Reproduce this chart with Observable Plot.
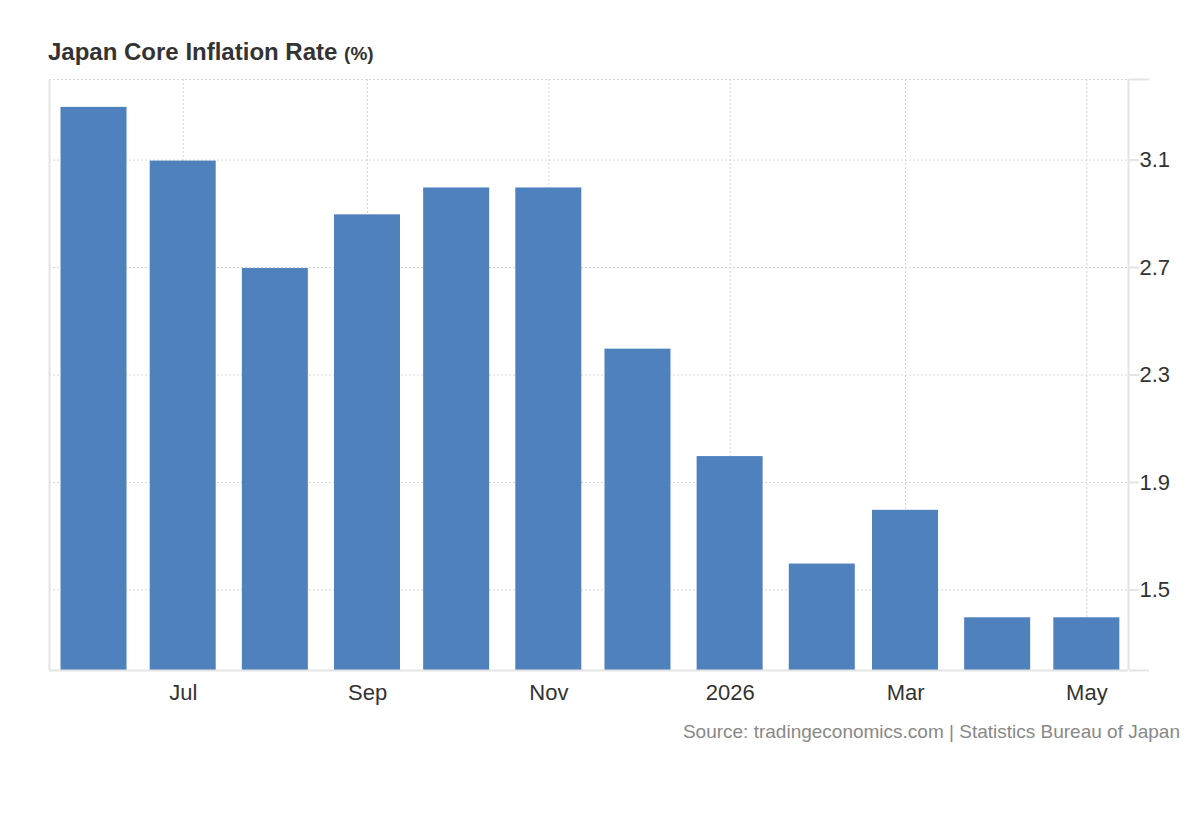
<!DOCTYPE html>
<html>
<head>
<meta charset="utf-8">
<script src="https://cdn.jsdelivr.net/npm/d3@7"></script>
<script src="https://cdn.jsdelivr.net/npm/@observablehq/plot@0.6"></script>
<style>
  html, body { margin: 0; padding: 0; background: #fff; }
  body { width: 1200px; height: 820px; font-family: "Liberation Sans", Arial, sans-serif; }
  #title { box-sizing: border-box; height: 70px; padding: 40px 0 0 48px; font-size: 24px; line-height: 24px; font-weight: bold; color: #333; }
  #title small { font-size: 19px; }
  #chart svg { display: block; }
  #source { box-sizing: border-box; margin-top: 2px; padding-right: 20px; text-align: right; font-size: 19px; line-height: 19px; color: #888; }
</style>
</head>
<body>
<div id="title">Japan Core Inflation Rate <small>(%)</small></div>
<div id="chart"></div>
<div id="source">Source: tradingeconomics.com | Statistics Bureau of Japan</div>
<script>
// ---- data ----
const months = ["2025-06","2025-07","2025-08","2025-09","2025-10","2025-11","2025-12","2026-01","2026-02","2026-03","2026-04","2026-05"];
const values = [3.3, 3.1, 2.7, 2.9, 3.0, 3.0, 2.4, 2.0, 1.6, 1.8, 1.4, 1.4];
const yTicks = [1.5, 1.9, 2.3, 2.7, 3.1];
const yDomain = [1.2, 3.4];
const xTickMonths = ["2025-07","2025-09","2025-11","2026-01","2026-03","2026-05"];
const xDomainDays = ["2025-05-17","2026-05-15"];

const parseMonth = s => new Date(s + "-01T00:00:00Z");
const parseDay = s => new Date(s + "T00:00:00Z");
const data = months.map((m, i) => ({date: parseMonth(m), value: values[i]}));
const xTicks = xTickMonths.map(parseMonth);
const xDomain = xDomainDays.map(parseDay);
const fmt = d => d.getUTCMonth() === 0 ? d3.utcFormat("%Y")(d) : d3.utcFormat("%b")(d);

const halfBar = 11.1; // days on each side of the month start
const gridColor = "#d6d6d6";
const frameColor = "#e4e4e4";

const chart = Plot.plot({
  width: 1200,
  height: 650,
  marginTop: 9,
  marginBottom: 50,
  marginLeft: 49,
  marginRight: 72,
  style: {fontFamily: "'Liberation Sans', Arial, sans-serif", color: "#333", background: "#fff"},
  x: {type: "utc", domain: xDomain, label: null},
  y: {domain: yDomain, label: null},
  marks: [
    Plot.gridX(xTicks, {stroke: gridColor, strokeOpacity: 1, strokeDasharray: "2,2"}),
    Plot.gridY(yTicks.concat([yDomain[1]]), {stroke: gridColor, strokeOpacity: 1, strokeDasharray: "2,2"}),
    Plot.rect(data, {
      x1: d => d3.utcHour.offset(d.date, -halfBar * 24),
      x2: d => d3.utcHour.offset(d.date, halfBar * 24),
      y1: () => yDomain[0],
      y2: "value",
      insetTop: 1,
      fill: "#4f81bd"
    }),
    Plot.ruleX([xDomain[0], xDomain[1]], {stroke: frameColor, strokeWidth: 2}),
    Plot.ruleY([yDomain[0]], {stroke: frameColor, strokeWidth: 2}),
    Plot.axisY(yTicks, {anchor: "right", label: null, tickSize: 10, tickPadding: 1, stroke: frameColor, strokeWidth: 2, fill: "#333", fontSize: 22, tickFormat: d => d.toFixed(1)}),
    Plot.axisY([yDomain[0], yDomain[1]], {anchor: "right", label: null, tickSize: 20, stroke: frameColor, strokeWidth: 2, tickFormat: () => ""}),
    Plot.axisX(xTicks, {label: null, tickSize: 0, tickPadding: 14, fill: "#333", fontSize: 22, tickFormat: fmt})
  ]
});
document.getElementById("chart").appendChild(chart);
</script>
</body>
</html>
